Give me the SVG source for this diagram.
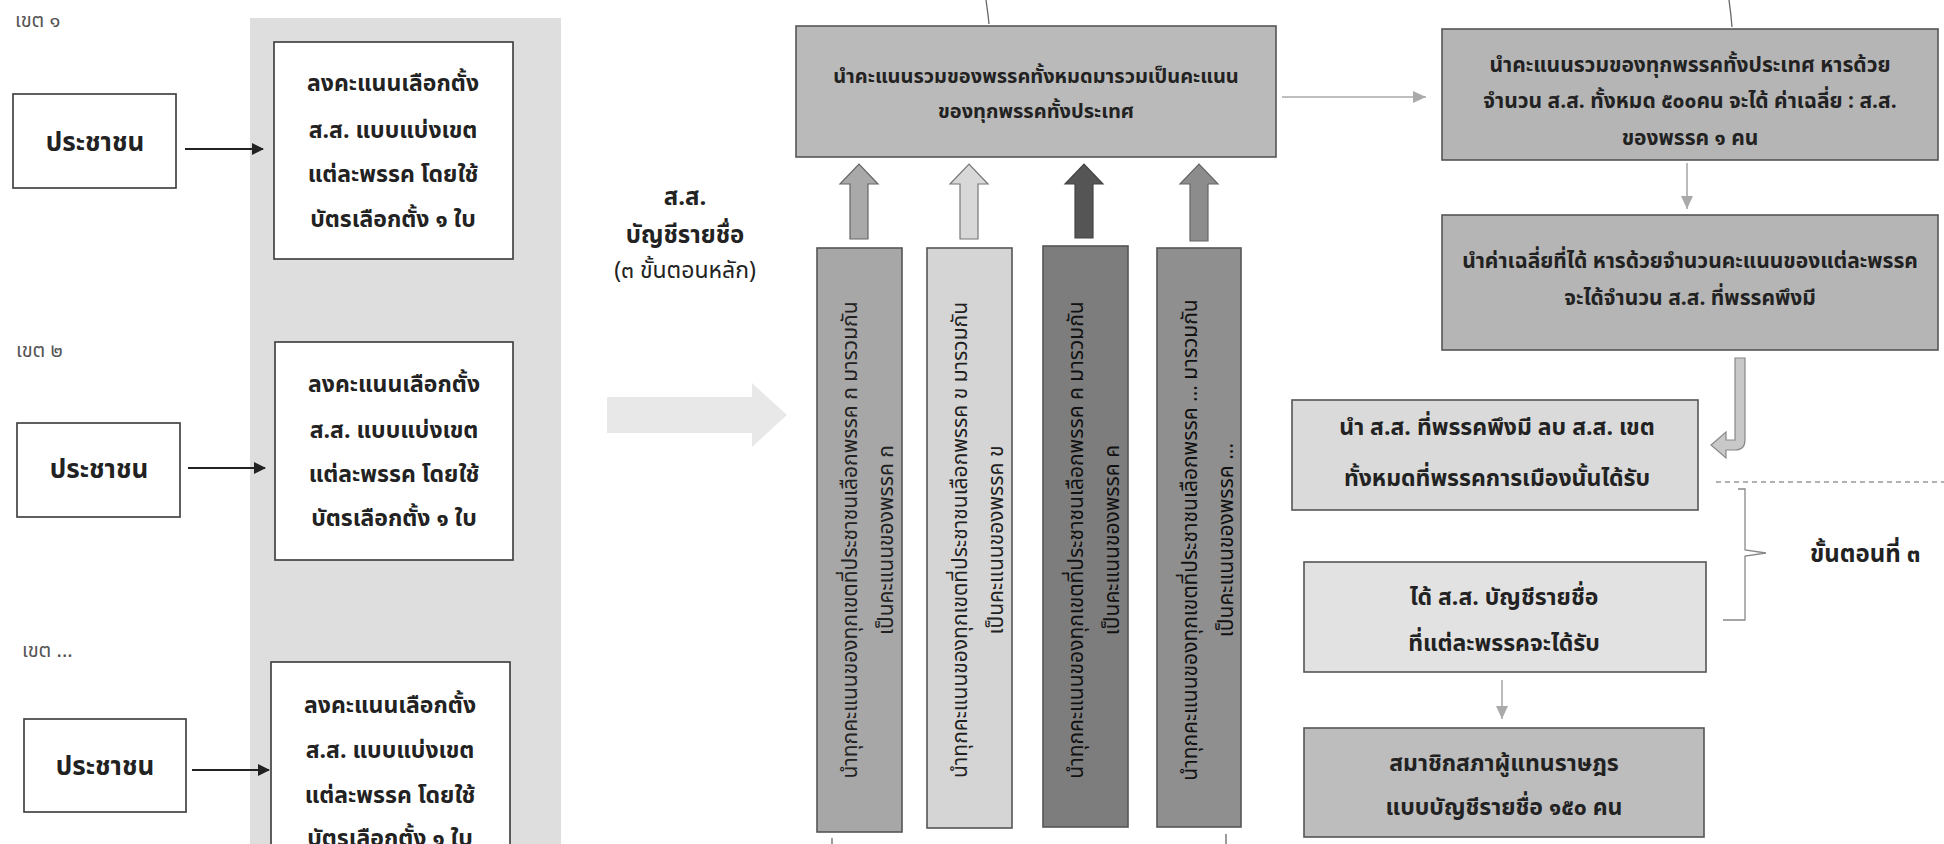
<svg xmlns="http://www.w3.org/2000/svg" width="1944" height="844" viewBox="0 0 1944 844">
<defs>
<style>
text{font-family:"Noto Sans Thai","Noto Sans","DejaVu Sans",sans-serif;fill:#222}
.b{font-weight:bold}
.lbl{font-size:20px;fill:#555}
.pc{font-size:26px;font-weight:bold;text-anchor:middle}
.vb{font-size:23px;font-weight:bold;text-anchor:middle}
.wb{fill:#fff;stroke:#444;stroke-width:1.7}
.vt{font-size:21px;text-anchor:middle}
.gt{font-size:20px;font-weight:bold;text-anchor:middle}
.rt{font-size:21px;font-weight:bold;text-anchor:middle}
.gt2{font-size:23px;font-weight:bold;text-anchor:middle}
.gbox{stroke:#555;stroke-width:1.6}
.conn{stroke:#222;stroke-width:2;fill:none}
.gconn{stroke:#aaa;stroke-width:1.6;fill:none}
</style>
<marker id="ab" markerWidth="12" markerHeight="12" refX="11" refY="6" orient="auto" markerUnits="userSpaceOnUse"><path d="M0,0 L12,6 L0,12 Z" fill="#222"/></marker>
<marker id="ag" markerWidth="14" markerHeight="14" refX="13" refY="7" orient="auto" markerUnits="userSpaceOnUse"><path d="M0,1 L13,7 L0,13 Z" fill="#aaa"/></marker>
</defs>
<rect width="1944" height="844" fill="#fff"/>

<g id="panel"><rect x="250" y="18" width="311" height="830" fill="#dedede"/></g>

<g id="zone1">
<text class="lbl" x="15" y="27">เขต ๑</text>
<g id="people1"><rect class="wb" x="13" y="94" width="163" height="94"/><text class="pc" x="95" y="151">ประชาชน</text></g>
<g id="vote1"><rect class="wb" x="274" y="42" width="239" height="217"/>
<text class="vb" x="393" y="91">ลงคะแนนเลือกตั้ง</text>
<text class="vb" x="393" y="138">ส.ส. แบบแบ่งเขต</text>
<text class="vb" x="393" y="182">แต่ละพรรค โดยใช้</text>
<text class="vb" x="393" y="227">บัตรเลือกตั้ง ๑ ใบ</text></g>
</g>
<g id="zone2">
<text class="lbl" x="16" y="357">เขต ๒</text>
<g id="people2"><rect class="wb" x="17" y="423" width="163" height="94"/><text class="pc" x="99" y="478">ประชาชน</text></g>
<g id="vote2"><rect class="wb" x="275" y="342" width="238" height="218"/>
<text class="vb" x="394" y="392">ลงคะแนนเลือกตั้ง</text>
<text class="vb" x="394" y="438">ส.ส. แบบแบ่งเขต</text>
<text class="vb" x="394" y="482">แต่ละพรรค โดยใช้</text>
<text class="vb" x="394" y="526">บัตรเลือกตั้ง ๑ ใบ</text></g>
</g>
<g id="zone3">
<text class="lbl" x="22" y="657">เขต ...</text>
<g id="people3"><rect class="wb" x="24" y="719" width="162" height="93"/><text class="pc" x="105" y="775">ประชาชน</text></g>
<g id="vote3"><rect class="wb" x="271" y="662" width="239" height="220"/>
<text class="vb" x="390" y="713">ลงคะแนนเลือกตั้ง</text>
<text class="vb" x="390" y="758">ส.ส. แบบแบ่งเขต</text>
<text class="vb" x="390" y="803">แต่ละพรรค โดยใช้</text>
<text class="vb" x="390" y="846">บัตรเลือกตั้ง ๑ ใบ</text></g>
</g>

<g id="partylist-label">
<text class="b" x="685" y="205" text-anchor="middle" font-size="24" fill="#444">ส.ส.</text>
<text class="b" x="685" y="243" text-anchor="middle" font-size="24" fill="#444">บัญชีรายชื่อ</text>
<text x="685" y="278" text-anchor="middle" font-size="23" fill="#444">(๓ ขั้นตอนหลัก)</text>
</g>

<g id="big-arrow"><path d="M607,397 L752,397 L752,383 L787,415 L752,447 L752,433 L607,433 Z" fill="#e8e8e8"/></g>

<g id="sum-box"><rect class="gbox" x="796" y="26" width="480" height="131" fill="#bababa"/>
<text class="gt" x="1036" y="83">นำคะแนนรวมของพรรคทั้งหมดมารวมเป็นคะแนน</text>
<text class="gt" x="1036" y="118">ของทุกพรรคทั้งประเทศ</text></g>

<g id="col1"><rect class="gbox" x="817" y="248" width="85" height="584" fill="#a7a7a7"/>
<text class="vt" transform="rotate(-90 857 540)" x="857" y="540">นำทุกคะแนนของทุกเขตที่ประชาชนเลือกพรรค ก มารวมกัน</text>
<text class="vt" transform="rotate(-90 893 540)" x="893" y="540">เป็นคะแนนของพรรค ก</text></g>
<g id="col2"><rect class="gbox" x="927" y="248" width="85" height="580" fill="#d5d5d5"/>
<text class="vt" transform="rotate(-90 967 540)" x="967" y="540">นำทุกคะแนนของทุกเขตที่ประชาชนเลือกพรรค ข มารวมกัน</text>
<text class="vt" transform="rotate(-90 1003 540)" x="1003" y="540">เป็นคะแนนของพรรค ข</text></g>
<g id="col3"><rect class="gbox" x="1043" y="246" width="85" height="581" fill="#7d7d7d"/>
<text class="vt" transform="rotate(-90 1083 540)" x="1083" y="540" style="fill:#111">นำทุกคะแนนของทุกเขตที่ประชาชนเลือกพรรค ค มารวมกัน</text>
<text class="vt" transform="rotate(-90 1119 540)" x="1119" y="540" style="fill:#111">เป็นคะแนนของพรรค ค</text></g>
<g id="col4"><rect class="gbox" x="1157" y="248" width="84" height="579" fill="#8f8f8f"/>
<text class="vt" transform="rotate(-90 1197 540)" x="1197" y="540" style="fill:#111">นำทุกคะแนนของทุกเขตที่ประชาชนเลือกพรรค ... มารวมกัน</text>
<text class="vt" transform="rotate(-90 1233 540)" x="1233" y="540" style="fill:#111">เป็นคะแนนของพรรค ...</text></g>

<g id="avg-box"><rect class="gbox" x="1442" y="29" width="496" height="131" fill="#b5b5b5"/>
<text class="rt" x="1690" y="72">นำคะแนนรวมของทุกพรรคทั้งประเทศ หารด้วย</text>
<text class="rt" x="1690" y="108">จำนวน ส.ส. ทั้งหมด ๕๐๐คน จะได้ ค่าเฉลี่ย : ส.ส.</text>
<text class="rt" x="1690" y="145">ของพรรค ๑ คน</text></g>
<g id="quota-box"><rect class="gbox" x="1442" y="215" width="496" height="135" fill="#b5b5b5"/>
<text class="rt" x="1690" y="268">นำค่าเฉลี่ยที่ได้ หารด้วยจำนวนคะแนนของแต่ละพรรค</text>
<text class="rt" x="1690" y="305">จะได้จำนวน  ส.ส. ที่พรรคพึงมี</text></g>
<g id="subtract-box"><rect class="gbox" x="1292" y="400" width="406" height="110" fill="#dadada"/>
<text class="gt2" x="1497" y="435">นำ ส.ส. ที่พรรคพึงมี ลบ ส.ส. เขต</text>
<text class="gt2" x="1497" y="486">ทั้งหมดที่พรรคการเมืองนั้นได้รับ</text></g>
<g id="result-box"><rect class="gbox" x="1304" y="562" width="402" height="110" fill="#e2e2e2"/>
<text class="gt2" x="1504" y="605">ได้ ส.ส. บัญชีรายชื่อ</text>
<text class="gt2" x="1504" y="651">ที่แต่ละพรรคจะได้รับ</text></g>
<g id="final-box"><rect class="gbox" x="1304" y="728" width="400" height="109" fill="#bdbdbd"/>
<text class="gt2" x="1504" y="771">สมาชิกสภาผู้แทนราษฎร</text>
<text class="gt2" x="1504" y="815">แบบบัญชีรายชื่อ  ๑๕๐ คน</text></g>
<g id="step3"><text class="b" x="1810" y="562" font-size="24">ขั้นตอนที่ ๓</text></g>

<g id="connectors">
<line class="conn" x1="185" y1="149" x2="263" y2="149" marker-end="url(#ab)"/>
<line class="conn" x1="188" y1="468" x2="265" y2="468" marker-end="url(#ab)"/>
<line class="conn" x1="192" y1="770" x2="269" y2="770" marker-end="url(#ab)"/>
<path d="M850,239 L850,184 L840,184 L859,164 L878,184 L868,184 L868,239 Z" fill="#a9a9a9" stroke="#666" stroke-width="1.2"/>
<path d="M960,239 L960,184 L950,184 L969,164 L988,184 L978,184 L978,239 Z" fill="#d8d8d8" stroke="#777" stroke-width="1.2"/>
<path d="M1075,238 L1075,184 L1065,184 L1084,164 L1103,184 L1093,184 L1093,238 Z" fill="#555" stroke="#444" stroke-width="1.2"/>
<path d="M1190,241 L1190,184 L1180,184 L1199,164 L1218,184 L1208,184 L1208,241 Z" fill="#8c8c8c" stroke="#666" stroke-width="1.2"/>
<line class="gconn" x1="1282" y1="97" x2="1426" y2="97" marker-end="url(#ag)"/>
<line class="gconn" x1="1687" y1="163" x2="1687" y2="209" marker-end="url(#ag)"/>
<path d="M1735,358 L1745,358 L1745,440 Q1745,450 1735,450 L1726,450 L1726,458 L1711,445 L1726,432 L1726,440 L1735,440 Z" fill="#c8c8c8" stroke="#888" stroke-width="1.2"/>
<line class="gconn" x1="1502" y1="680" x2="1502" y2="719" marker-end="url(#ag)"/>
<line x1="1716" y1="482" x2="1944" y2="482" stroke="#999" stroke-width="1.3" stroke-dasharray="5 4"/>
<path d="M1738,489 L1745,489 L1745,550 L1766,553 L1745,556 L1745,620 L1723,620" fill="none" stroke="#888" stroke-width="1.3"/>
<path d="M986,0 Q988,14 989,24" fill="none" stroke="#666" stroke-width="1.3"/>
<path d="M1729,0 Q1731,14 1732,27" fill="none" stroke="#666" stroke-width="1.3"/>
<line x1="832" y1="838" x2="832" y2="844" stroke="#666" stroke-width="1.3"/>
<line x1="1226" y1="834" x2="1226" y2="844" stroke="#666" stroke-width="1.3"/>
</g>
</svg>
